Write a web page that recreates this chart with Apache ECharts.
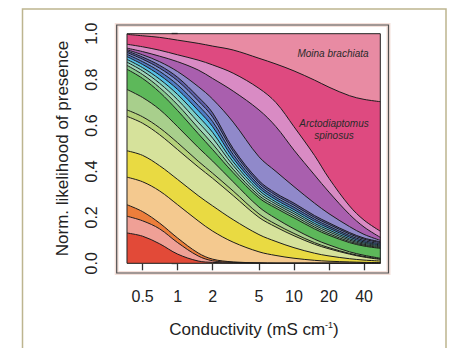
<!DOCTYPE html>
<html><head><meta charset="utf-8">
<script src="https://cdn.jsdelivr.net/npm/echarts@6/dist/echarts.min.js"></script>
<style>html,body{margin:0;padding:0;background:#fff}#c{width:450px;height:348px}</style>
</head><body><div id="c"></div>
<script>
// x sample points (conductivity, mS cm-1)
const conductivity = [0.367, 0.5, 0.7, 1, 1.5, 2, 3, 5, 7, 10, 15, 20, 30, 40, 55.2];
const xTicks = [0.5, 1, 2, 5, 10, 20, 40];
const xTickLabels = ['0.5', '1', '2', '5', '10', '20', '40'];
const yTickLabels = ['0.0', '0.2', '0.4', '0.6', '0.8', '1.0'];

// cumulative boundaries (top of each coloured band)
const moinaLine      = [0.997,0.991,0.984,0.972,0.958,0.946,0.929,0.893,0.868,0.838,0.798,0.767,0.730,0.714,0.704];
const arctodiapLine  = [0.954,0.943,0.928,0.908,0.885,0.864,0.828,0.762,0.700,0.595,0.470,0.370,0.250,0.188,0.140];
const lilacLine      = [0.937,0.922,0.902,0.878,0.842,0.805,0.750,0.668,0.595,0.493,0.385,0.310,0.213,0.158,0.113];
const purpleLine     = [0.930,0.908,0.878,0.835,0.770,0.715,0.615,0.464,0.400,0.334,0.262,0.216,0.160,0.126,0.100];
const periwinkleLine = [0.925,0.898,0.862,0.810,0.725,0.655,0.500,0.360,0.305,0.262,0.208,0.176,0.134,0.110,0.094];
const indigoLine     = [0.918,0.889,0.850,0.795,0.708,0.637,0.488,0.350,0.296,0.253,0.200,0.169,0.128,0.105,0.090];
const steelLine      = [0.910,0.878,0.836,0.777,0.688,0.617,0.474,0.340,0.287,0.244,0.192,0.161,0.121,0.099,0.085];
const blueLine       = [0.900,0.866,0.820,0.757,0.666,0.595,0.458,0.329,0.277,0.234,0.183,0.153,0.114,0.093,0.080];
const cyanLine       = [0.888,0.852,0.802,0.735,0.641,0.570,0.442,0.318,0.267,0.225,0.174,0.145,0.107,0.088,0.076];
const aquaLine       = [0.876,0.838,0.784,0.712,0.615,0.545,0.426,0.306,0.258,0.216,0.166,0.137,0.101,0.083,0.072];
const mintLine       = [0.862,0.822,0.765,0.690,0.590,0.520,0.410,0.295,0.249,0.207,0.158,0.129,0.095,0.079,0.068];
const greenLine      = [0.845,0.805,0.745,0.665,0.565,0.495,0.395,0.285,0.240,0.198,0.150,0.122,0.090,0.075,0.065];
const paleGreenLine  = [0.757,0.722,0.670,0.595,0.505,0.445,0.355,0.245,0.195,0.150,0.105,0.080,0.050,0.035,0.022];
const oliveLine      = [0.668,0.638,0.590,0.525,0.445,0.392,0.315,0.215,0.170,0.130,0.090,0.068,0.043,0.030,0.019];
const lightYGLine    = [0.640,0.610,0.560,0.495,0.420,0.370,0.295,0.200,0.158,0.120,0.083,0.063,0.040,0.027,0.017];
const yellowLine     = [0.490,0.470,0.425,0.365,0.295,0.250,0.190,0.125,0.095,0.068,0.044,0.032,0.020,0.014,0.010];
const peachLine      = [0.375,0.355,0.315,0.255,0.185,0.140,0.092,0.050,0.034,0.022,0.013,0.009,0.006,0.004,0.003];
const orangeLine     = [0.255,0.225,0.175,0.110,0.045,0.018,0.006,0.002,0.001,0.001,0.001,0.001,0.001,0.001,0.001];
const salmonLine     = [0.205,0.185,0.150,0.090,0.032,0.011,0.004,0.001,0,0,0,0,0,0,0];
const redLine        = [0.132,0.118,0.085,0.040,0.010,0.004,0.001,0,0,0,0,0,0,0,0];

const bands = [
  [moinaLine, '#DE4A80'], [arctodiapLine, '#D98BC4'], [lilacLine, '#A95FAE'],
  [purpleLine, '#9089CA'], [periwinkleLine, '#5D5FA9'], [indigoLine, '#7C8FD2'],
  [steelLine, '#4F7CC4'], [blueLine, '#55C0E6'], [cyanLine, '#7DCFC6'],
  [aquaLine, '#9FD6B9'], [mintLine, '#86C98C'], [greenLine, '#5DB85A'],
  [paleGreenLine, '#A8CF8C'], [oliveLine, '#B5D17A'], [lightYGLine, '#D6E29B'],
  [yellowLine, '#E9DA42'], [peachLine, '#F4C98F'], [orangeLine, '#EC7E3B'],
  [salmonLine, '#EFA096'], [redLine, '#E24A38']
];

const L = Math.log10;
const series = [];
bands.forEach(([arr, col]) => {
  const data = conductivity.map((c, j) => [L(c), arr[j]]);
  series.push({type:'line', data, smooth:0.35, symbol:'none', silent:true, animation:false, z:2,
    lineStyle:{width:0, opacity:0}, areaStyle:{color:col, opacity:1}});
});
bands.forEach(([arr]) => {
  const data = conductivity.map((c, j) => [L(c), arr[j]]);
  series.push({type:'line', data, smooth:0.35, symbol:'none', silent:true, animation:false, z:3,
    lineStyle:{width:1, color:'#1c1c1c'}});
});

const FONT = 'Liberation Sans, Arial, sans-serif';
const GL = 127, GT = 33.7, GR = 380.3, GB = 263.3;
const chart = echarts.init(document.getElementById('c'), null, {renderer:'svg'});
chart.setOption({
  animation:false,
  backgroundColor:'#ffffff',
  grid:{left:GL, top:GT, width:GR-GL, height:GB-GT, show:true, backgroundColor:'#E88BA3', borderWidth:0},
  xAxis:{type:'value', min:L(conductivity[0]), max:L(conductivity[conductivity.length-1]), offset:9.7,
    axisLine:{show:false}, splitLine:{show:false},
    axisTick:{show:true, customValues:xTicks.map(L), length:7, lineStyle:{color:'#333', width:1.3}},
    axisLabel:{customValues:xTicks.map(L), fontSize:16, fontFamily:FONT, color:'#222', margin:15,
      formatter:(v)=>{let bi=0,bd=1e9; xTicks.forEach((t,i)=>{const d=Math.abs(L(t)-v); if(d<bd){bd=d;bi=i;}}); return xTickLabels[bi];}}},
  yAxis:{type:'value', min:0, max:1, interval:0.2, offset:10.3,
    axisLine:{show:false}, splitLine:{show:false},
    axisTick:{show:true, length:6, lineStyle:{color:'#333', width:1.3}},
    axisLabel:{rotate:90, fontSize:16, fontFamily:FONT, color:'#222', margin:17,
      formatter:(v)=>yTickLabels[Math.round(v/0.2)]},
    name:'Norm. likelihood of presence', nameLocation:'middle', nameGap:46,
    nameTextStyle:{fontSize:17, fontFamily:FONT, color:'#222'}},
  series,
  graphic:{elements:[
    {type:'rect', id:'frame', z:50, silent:true, shape:{x:22.5, y:9, width:423.5, height:420}, style:{fill:null, stroke:'#bdb58f', lineWidth:1.5}},
    {type:'rect', id:'halo', z:50, silent:true, shape:{x:116.7, y:25, width:271.8, height:248}, style:{fill:null, stroke:'#f4e0da', lineWidth:4}},
    {type:'rect', id:'rbox', z:51, silent:true, shape:{x:116.7, y:25, width:271.8, height:248}, style:{fill:null, stroke:'#505050', lineWidth:1.2}},
    {type:'rect', id:'dbox', z:100, silent:true, shape:{x:GL, y:GT, width:GR-GL, height:GB-GT}, style:{fill:null, stroke:'#222', lineWidth:1}},
    {type:'text', id:'t1', z:100, silent:true, x:333, y:53.3, style:{text:'Moina brachiata', font:'italic 10px '+FONT, fill:'#2a2a2a', align:'center', verticalAlign:'middle'}},
    {type:'text', id:'t2', z:100, silent:true, x:334, y:123.3, style:{text:'Arctodiaptomus', font:'italic 10px '+FONT, fill:'#2a2a2a', align:'center', verticalAlign:'middle'}},
    {type:'text', id:'t3', z:100, silent:true, x:334, y:135.5, style:{text:'spinosus', font:'italic 10px '+FONT, fill:'#2a2a2a', align:'center', verticalAlign:'middle'}},
    {type:'text', id:'t4', z:100, silent:true, x:254, y:329, style:{text:'{a|Conductivity (mS cm}{s|-1}{a|)}', align:'center', verticalAlign:'middle',
      rich:{a:{fontSize:17, fontFamily:FONT, fill:'#222'}, s:{fontSize:9, fontFamily:FONT, fill:'#222', verticalAlign:'top'}}}}
  ]}
});
</script></body></html>
